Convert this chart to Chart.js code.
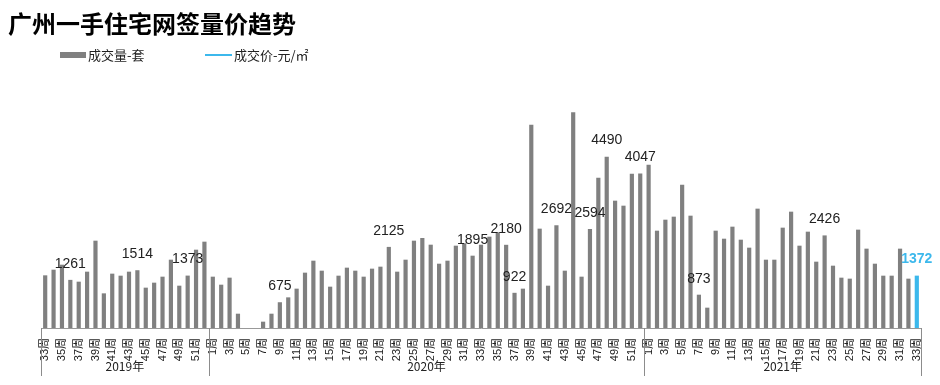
<!DOCTYPE html>
<html>
<head>
<meta charset="utf-8">
<script src="https://cdn.jsdelivr.net/npm/chart.js@4"></script>
<style>
  body { margin: 0; background: #fff; }
  #wrap { position: relative; width: 940px; height: 385px; font-family: "Noto Sans CJK SC", sans-serif; }
  #title { position: absolute; left: 8px; top: 11px; font-size: 24px; font-weight: 700; line-height: 24px; color: #000; }
  .leg { position: absolute; top: 47px; font-size: 13px; line-height: 16px; color: #222; }
  .sw { position: absolute; }
  canvas { position: absolute; left: 0; top: 0; }
</style>
</head>
<body>
<div id="wrap">
  <canvas id="myChart" width="940" height="385"></canvas>
  <div id="title">广州一手住宅网签量价趋势</div>
  <div class="sw" style="left:60px;top:52px;width:26px;height:6px;background:#808080"></div>
  <div class="leg" style="left:88px">成交量-套</div>
  <div class="sw" style="left:205px;top:54px;width:27px;height:2px;background:#3cb8ec"></div>
  <div class="leg" style="left:234px">成交价-元/㎡</div>
</div>
<script>
// weeks shown on the axis, per year
var weeks2019 = [33,34,35,36,37,38,39,40,41,42,43,44,45,46,47,48,49,50,51,52];
var weeks2020 = [1,2,3,4,5,6,7,8,9,10,11,12,13,14,15,16,17,18,19,20,21,22,23,24,25,26,
                 27,28,29,30,31,32,33,34,35,36,37,38,39,40,41,42,43,44,45,46,47,48,49,50,51,52];
var weeks2021 = [1,2,3,4,5,6,7,8,9,10,11,12,13,14,15,16,17,18,19,20,21,22,23,24,25,26,27,28,29,30,31,32,33];

// 成交量 (套)
var vol2019 = [1380,1528,1659,1261,1214,1476,2288,908,1424,1371,1476,1514,1057,1188,1345,1790,1109,1373,2052,2262];
var vol2020 = [1345,1135,1319,375,0,0,166,375,675,803,1031,1450,1764,1502,1083,1371,1581,1502,1345,1555,1607,2125,1476,1790,2288,2358,
               2183,1685,1764,2157,2220,1895,2183,2393,2507,2180,922,1031,5327,2603,1109,2692,1502,5651,1345,2594,3939,4490,3336,3205,4040,4047];
var vol2021 = [4280,2550,2838,2917,3755,2943,873,533,2550,2340,2655,2314,2105,3127,1790,1790,2629,3048,2157,2524,1738,2426,1633,1319,1293,2577,2079,1685,1371,1371,2079,1293,1372];

var years = ['2019年', '2020年', '2021年'];
// bars that carry a value label
var labelled = ['2019-36','2019-44','2019-50','2020-9','2020-22','2020-32','2020-36','2020-37',
                '2020-42','2020-46','2020-48','2020-52','2021-7','2021-22','2021-33'];

var labels = [], keys = [], values = [], groupSizes = [];
[[2019, weeks2019, vol2019], [2020, weeks2020, vol2020], [2021, weeks2021, vol2021]].forEach(function (g) {
    groupSizes.push(g[1].length);
    for (var i = 0; i < g[1].length; i++) {
        labels.push(g[1][i] + '周');
        keys.push(g[0] + '-' + g[1][i]);
        values.push(g[2][i]);
    }
});
var lastIndex = values.length - 1;

var GRAY = '#808080', BLUE = '#3cb8ec';

var extras = {
    id: 'extras',
    afterDatasetsDraw: function (chart) {
        var ctx = chart.ctx;
        var meta = chart.getDatasetMeta(0);
        ctx.save();
        ctx.textAlign = 'center';
        ctx.textBaseline = 'middle';
        for (var i = 0; i < meta.data.length; i++) {
            if (labelled.indexOf(keys[i]) < 0) continue;
            var bar = meta.data[i];
            if (i === lastIndex) {
                ctx.fillStyle = BLUE;
                ctx.font = 'bold 14px "Liberation Sans", Arial, sans-serif';
            } else {
                ctx.fillStyle = '#222';
                ctx.font = '14px "Liberation Sans", Arial, sans-serif';
            }
            ctx.fillText(values[i].toString(), bar.x, bar.y - 16);
        }

        // year groups under the axis
        var x = chart.scales.x;
        var step = x.width / values.length;
        var bottom = chart.chartArea.bottom;
        ctx.strokeStyle = '#8c8c8c';
        ctx.lineWidth = 1;
        ctx.fillStyle = '#222';
        ctx.font = '12px "Noto Sans CJK SC", sans-serif';
        var bounds = [0];
        for (var g = 0; g < groupSizes.length; g++) {
            bounds.push(bounds[g] + groupSizes[g]);
        }
        for (var b = 0; b < bounds.length; b++) {
            var px = Math.round(x.left + bounds[b] * step) + 0.5;
            ctx.beginPath();
            ctx.moveTo(px, bottom);
            ctx.lineTo(px, 376);
            ctx.stroke();
        }
        for (var g = 0; g < years.length; g++) {
            var cx = x.left + (bounds[g] + bounds[g + 1]) / 2 * step;
            ctx.fillText(years[g], cx, 366);
        }
        ctx.restore();
    }
};

var ctx = document.getElementById('myChart').getContext('2d');
var myChart = new Chart(ctx, {
    type: 'bar',
    data: {
        labels: labels,
        datasets: [{
            label: '成交量-套',
            data: values,
            backgroundColor: function (c) { return c.dataIndex === lastIndex ? BLUE : GRAY; },
            barPercentage: 0.5,
            categoryPercentage: 1.0
        }]
    },
    options: {
        responsive: false,
        animation: false,
        layout: { padding: { top: 99, left: 41, right: 19, bottom: 0 } },
        plugins: { legend: { display: false }, title: { display: false }, tooltip: { enabled: false } },
        scales: {
            x: {
                grid: { display: false },
                border: { display: true, color: '#999' },
                afterFit: function (scale) { scale.height = 57; },
                ticks: {
                    autoSkip: false,
                    maxRotation: 90,
                    minRotation: 90,
                    padding: 2,
                    color: '#222',
                    font: { size: 11, family: '"Liberation Sans", "Noto Sans CJK SC", sans-serif' },
                    callback: function (v, i) {
                        var w = parseInt(labels[i]);
                        return w % 2 === 1 ? labels[i] : '';
                    }
                }
            },
            y: {
                display: false,
                min: 0,
                max: 6000
            }
        }
    },
    plugins: [extras]
});
</script>
</body>
</html>
